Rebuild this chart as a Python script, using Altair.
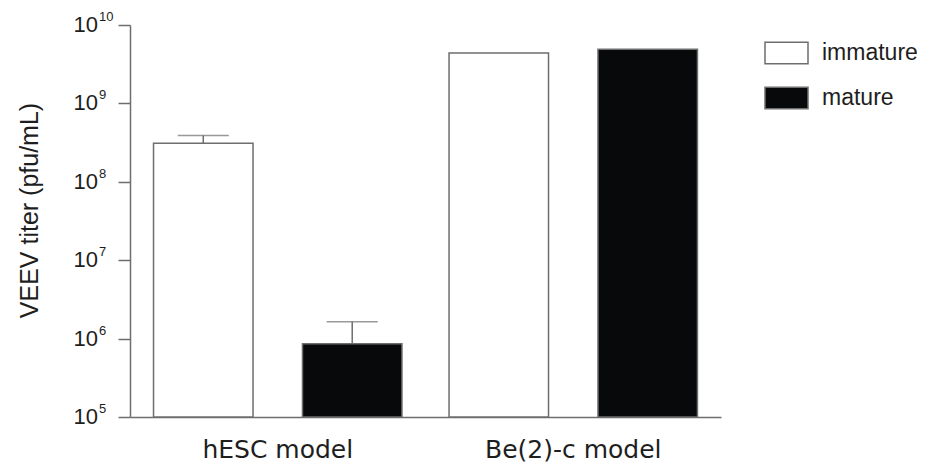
import altair as alt
import pandas as pd

# ---- data ----
groups = ["hESC model", "hESC model", "Be(2)-c model", "Be(2)-c model"]
stages = ["immature", "mature", "immature", "mature"]
titers = [3.1e8, 8.6e5, 4.4e9, 4.9e9]

err_groups = ["hESC model", "hESC model"]
err_stages = ["immature", "mature"]
err_low = [3.1e8, 8.6e5]
err_high = [3.9e8, 1.64e6]

tick_values = [1e5, 1e6, 1e7, 1e8, 1e9, 1e10]
tick_base = ["10", "10", "10", "10", "10", "10"]
tick_exp = ["5", "6", "7", "8", "9", "10"]
baseline = 1e5

FONT = "Liberation Sans"
XFONT = "DejaVu Sans"
GREY = "#6e6e6e"
BLACK = "#08090b"
TEXT = "#1e1e1e"

bars_df = pd.DataFrame({"group": groups, "stage": stages, "titer": titers,
                        "base": [baseline] * len(groups)})
err_df = pd.DataFrame({"group": err_groups, "stage": err_stages,
                       "lo": err_low, "hi": err_high})
ticks_df = pd.DataFrame({"v": tick_values, "b": tick_base, "e": tick_exp})

yscale = alt.Scale(type="log", domain=[1e5, 1e10], nice=False)
xscale = alt.Scale(domain=["hESC model", "Be(2)-c model"], paddingInner=0, paddingOuter=0)
xoff_scale = alt.Scale(domain=["immature", "mature"], paddingInner=0.332, paddingOuter=0.158)

x_enc = alt.X("group:N", scale=xscale, sort=None,
              axis=alt.Axis(title=None, ticks=False, labelAngle=0, labelFontSize=25,
                            labelFont=XFONT, labelColor=TEXT, labelPadding=20, labelLimit=0,
                            domainColor=GREY, domainWidth=1.5))
xo_enc = alt.XOffset("stage:N", scale=xoff_scale)

bars = alt.Chart(bars_df).mark_bar(stroke=GREY, strokeWidth=1.5).encode(
    x=x_enc,
    xOffset=xo_enc,
    y=alt.Y("titer:Q", scale=yscale,
            axis=alt.Axis(values=tick_values, labels=False, tickSize=12, tickColor=GREY,
                          tickWidth=1.5, domainColor=GREY, domainWidth=1.5, grid=False,
                          title="VEEV titer (pfu/mL)", titleFont=FONT, titleFontSize=25,
                          titleFontWeight="normal", titleColor=TEXT, titleX=-101, titleY=185,
                          titleAngle=-90, titleBaseline="middle", titleAlign="center")),
    y2="base:Q",
    fill=alt.Fill("stage:N",
                  scale=alt.Scale(domain=["immature", "mature"], range=["white", BLACK]),
                  legend=alt.Legend(title=None, orient="none", legendX=634, legendY=5.5,
                                    symbolType="M-1,-0.5H1V0.5H-1Z", symbolSize=1849,
                                    symbolStrokeColor=GREY, symbolStrokeWidth=1.5,
                                    labelFont=FONT, labelFontSize=23, labelColor=TEXT,
                                    labelOffset=13, rowPadding=8, padding=0)),
)

err_rule = alt.Chart(err_df).mark_rule(color=GREY, strokeWidth=1.5).encode(
    x=x_enc, xOffset=xo_enc, y=alt.Y("lo:Q", scale=yscale), y2="hi:Q")
err_cap = alt.Chart(err_df).mark_tick(color=GREY, thickness=1.5, size=51).encode(
    x=x_enc, xOffset=xo_enc, y=alt.Y("hi:Q", scale=yscale))

base_txt = alt.Chart(ticks_df).mark_text(align="right", baseline="middle", font=FONT,
                                         fontSize=22, color=TEXT).encode(
    y=alt.Y("v:Q", scale=yscale), x=alt.value(-32), text="b:N")
exp_txt = alt.Chart(ticks_df).mark_text(align="left", baseline="middle", font=FONT,
                                        fontSize=13, color=TEXT, dy=-8).encode(
    y=alt.Y("v:Q", scale=yscale), x=alt.value(-31), text="e:N")

chart = alt.layer(bars, err_rule, err_cap, base_txt, exp_txt).properties(
    width=591, height=392,
    autosize=alt.AutoSizeParams(type="none"),
    padding={"left": 122, "top": 17, "right": 196, "bottom": 46},
).configure_view(stroke=None)

chart.save("out.html", embed_options={"renderer": "svg", "actions": False})
